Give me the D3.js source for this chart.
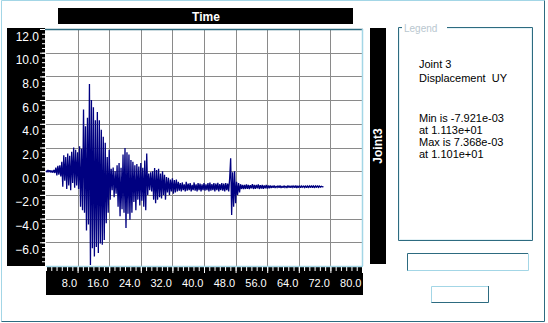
<!DOCTYPE html>
<html>
<head>
<meta charset="utf-8">
<script src="https://cdn.jsdelivr.net/npm/d3@7"></script>
<style>
  html, body { margin: 0; padding: 0; background: #fff; }
  #chart { width: 548px; height: 323px; }
  text { font-family: "Liberation Sans", Arial, sans-serif; }
</style>
</head>
<body>
<div id="chart"></div>
<script>
const dt = 0.25;
const uy_00_10 = [0.05, -0.08, 0.1, -0.05, 0.08, -0.1, 0.06, -0.12, 0.1, -0.15,
  0.3, -0.35, 0.45, -0.3, 0.5, -0.45, 0.8, -1.3, 1.35, -0.8,
  1.2, -1.5, 1.5, -1.2, 1.3, -1.6, 1.65, -1.0, 2.0, -1.4,
  1.8, -1.2, 1.6, -1.5, 2.1, -3.0, 1.9, -3.3, 5.2, -3.5];
const uy_10_20 = [3.8, -5.0, 4.5, -4.5, 7.368, -7.921, 6.0, -6.5, 5.4, -7.2,
  4.3, -6.4, 5.0, -6.9, 4.3, -6.1, 3.5, -6.2, 2.9, -5.8,
  2.4, -4.4, 1.2, -3.5, 1.8, -2.4, 0.2, -1.6, 0.3, -2.2,
  0.0, -1.9, 0.5, -3.0, 0.7, -3.8, 0.3, -3.2, 1.4, -3.5];
const uy_20_30 = [1.95, -4.8, 1.6, -3.6, 1.4, -4.1, 0.95, -3.5, 0.8, -2.6,
  0.5, -3.3, 0.6, -2.4, 0.4, -2.9, 0.7, -2.5, 0.3, -3.0,
  0.9, -3.3, 1.5, -2.0, -0.2, -1.6, -0.1, -1.7, 0.0, -2.4,
  0.27, -2.7, 0.1, -2.4, 0.2, -2.2, -0.2, -2.3, 0.0, -2.0];
const uy_30_40 = [-0.3, -2.4, -0.5, -1.8, -0.55, -2.0, -0.7, -1.7, -0.6, -1.9,
  -0.75, -1.8, -0.7, -1.7, -0.9, -1.65, -1.0, -1.7, -0.95, -1.6,
  -1.1, -1.7, -0.9, -1.65, -1.05, -1.6, -1.0, -1.7, -1.15, -1.6,
  -0.95, -1.65, -1.1, -1.7, -1.0, -1.6, -1.05, -1.7, -1.1, -1.6];
const uy_40_50 = [-1.0, -1.65, -1.1, -1.6, -1.0, -1.7, -0.97, -1.65, -1.08, -1.6,
  -1.0, -1.7, -1.05, -1.6, -0.98, -1.7, -1.08, -1.6, -1.0, -1.65,
  -1.05, -1.7, -1.0, -1.6, -1.05, -1.7, -0.6, 1.09, -3.7, -0.1,
  -3.0, 0.0, -2.7, -0.9, -2.0, -1.0, -1.8, -1.1, -1.5, -1.15];
const uy_50_60 = [-1.5, -1.15, -1.5, -1.12, -1.48, -1.15, -1.5, -1.18, -1.45, -1.1,
  -1.5, -1.15, -1.48, -1.15, -1.45, -1.12, -1.5, -1.18, -1.46, -1.15,
  -1.48, -1.2, -1.45, -1.15, -1.46, -1.2, -1.44, -1.2, -1.42, -1.22,
  -1.4, -1.2, -1.42, -1.25, -1.38, -1.22, -1.4, -1.2, -1.42, -1.25];
const uy_60_70 = [-1.4, -1.22, -1.38, -1.25, -1.42, -1.2, -1.38, -1.24, -1.4, -1.22,
  -1.38, -1.25, -1.4, -1.2, -1.42, -1.24, -1.38, -1.22, -1.4, -1.25,
  -1.36, -1.26, -1.38, -1.22, -1.4, -1.25, -1.36, -1.24, -1.38, -1.2,
  -1.4, -1.25, -1.36, -1.24, -1.38, -1.22, -1.36, -1.25, -1.35, -1.28,
  -1.32, -1.3];

const xMajor = [8, 16, 24, 32, 40, 48, 56, 64, 72, 80];
const yMajor = [-6, -4, -2, 0, 2, 4, 6, 8, 10, 12];
const legendLines = ["Joint 3", "Displacement  UY", "Min is -7.921e-03", "at 1.113e+01", "Max is 7.368e-03", "at 1.101e+01"];
const legendRows = [68, 81.5, 121.5, 133.5, 146, 158];

const series = [].concat(uy_00_10, uy_10_20, uy_20_30, uy_30_40, uy_40_50, uy_50_60, uy_60_70)
  .map((v, i) => ({ t: i * dt, v }));

const dark = "#2d6b80", light = "#a3d6e6";

const svg = d3.select("#chart").append("svg")
  .attr("width", 548).attr("height", 323);

// outer frame
svg.append("path").attr("d", "M1.5,321.5V0.5H544.5").attr("fill", "none").attr("stroke", light);
svg.append("path").attr("d", "M1.5,321.5H544.5V0.5").attr("fill", "none").attr("stroke", dark);

const x = d3.scaleLinear().domain([0, 80]).range([46, 362]);
const y = d3.scaleLinear().domain([-8, 12]).range([266, 29]);

// title bar
svg.append("rect").attr("x", 58).attr("y", 8).attr("width", 295).attr("height", 16).attr("fill", "#000");
svg.append("text").attr("x", 206).attr("y", 21).attr("text-anchor", "middle")
  .attr("fill", "#fff").style("font-size", "12px").style("font-weight", "bold").text("Time");

// axis panels
svg.append("rect").attr("x", 7).attr("y", 28).attr("width", 38).attr("height", 238).attr("fill", "#000");
svg.append("rect").attr("x", 46).attr("y", 266).attr("width", 317).attr("height", 29).attr("fill", "#000");
svg.append("rect").attr("x", 370).attr("y", 28).attr("width", 16).attr("height", 236).attr("fill", "#000");
svg.append("text").attr("transform", "translate(382,146) rotate(-90)").attr("text-anchor", "middle")
  .attr("fill", "#fff").style("font-size", "12px").style("font-weight", "bold").text("Joint3");

// plot background + grid
svg.append("rect").attr("x", 46).attr("y", 29).attr("width", 316).attr("height", 237).attr("fill", "#fff");
const grid = svg.append("g").attr("stroke", "#8a8a8a").attr("shape-rendering", "crispEdges");
grid.selectAll("line.gx").data(xMajor.filter(d => d < 80)).join("line")
  .attr("x1", d => Math.round(x(d)) + 0.5).attr("x2", d => Math.round(x(d)) + 0.5)
  .attr("y1", 29).attr("y2", 266);
grid.selectAll("line.gy").data(yMajor.filter(d => d < 12)).join("line")
  .attr("class", "gy")
  .attr("y1", d => Math.round(y(d)) + 0.5).attr("y2", d => Math.round(y(d)) + 0.5)
  .attr("x1", 46).attr("x2", 362);

// signal
const line = d3.line().x(d => x(d.t)).y(d => y(d.v));
svg.append("path").datum(series).attr("d", line)
  .attr("fill", "none").attr("stroke", "#000080").attr("stroke-width", 1.3)
  .attr("stroke-linejoin", "miter").attr("stroke-miterlimit", 2);

// plot borders
svg.append("line").attr("x1", 45).attr("x2", 363).attr("y1", 29.5).attr("y2", 29.5).attr("stroke", dark).attr("stroke-width", 1.5);
svg.append("line").attr("x1", 362.5).attr("x2", 362.5).attr("y1", 29).attr("y2", 266).attr("stroke", light).attr("stroke-width", 1.5);
svg.append("line").attr("x1", 46).attr("x2", 363).attr("y1", 266.5).attr("y2", 266.5).attr("stroke", light).attr("stroke-width", 1.5);

// y axis
const yMinor = d3.range(-8, 12.01, 0.4);
svg.append("g").attr("transform", "translate(45,0)")
  .call(d3.axisLeft(y).tickValues(yMinor).tickSize(3).tickFormat(""))
  .call(g => g.select(".domain").remove())
  .call(g => g.selectAll("line").attr("stroke", "#fff"));
svg.append("g").attr("transform", "translate(45,0)")
  .call(d3.axisLeft(y).tickValues(yMajor).tickSize(5).tickFormat(d3.format(".1f")))
  .call(g => g.select(".domain").remove())
  .call(g => g.selectAll("line").attr("stroke", "#fff"))
  .call(g => g.selectAll("text").attr("fill", "#fff").attr("x", -6).attr("dy", 0).attr("y", 11)
    .style("font-size", "12px").style("font-family", "Liberation Sans, Arial, sans-serif"));

// x axis
const xMinor = d3.range(0, 80.01, 8 / 6);
svg.append("g").attr("transform", "translate(0,267)")
  .call(d3.axisBottom(x).tickValues(xMinor).tickSize(4).tickFormat(""))
  .call(g => g.select(".domain").remove())
  .call(g => g.selectAll("line").attr("stroke", "#fff"));
svg.append("g").attr("transform", "translate(0,267)")
  .call(d3.axisBottom(x).tickValues(xMajor).tickSize(6).tickFormat(d3.format(".1f")))
  .call(g => g.select(".domain").remove())
  .call(g => g.selectAll("line").attr("stroke", "#fff"))
  .call(g => g.selectAll("text").attr("fill", "#fff").attr("text-anchor", "end").attr("x", -1)
    .attr("dy", 0).attr("y", 20).style("font-size", "11px")
    .style("font-family", "Liberation Sans, Arial, sans-serif"));

// legend box
svg.append("path").attr("d", "M402,27.5H398.5V240.5H532.5V27.5H447")
  .attr("fill", "none").attr("stroke", dark);
svg.append("path").attr("d", "M402,28.5H399.5V239.5H531.5V28.5H447")
  .attr("fill", "none").attr("stroke", "#e4f2f6");
svg.append("text").attr("x", 404).attr("y", 32).attr("fill", "#b9c7cf")
  .style("font-size", "10px").text("Legend");
svg.append("g").selectAll("text").data(legendLines).join("text")
  .attr("x", 419).attr("y", (d, i) => legendRows[i])
  .attr("fill", "#000").style("font-size", "11px").style("white-space", "pre").text(d => d);

// edit box + button
svg.append("path").attr("d", "M407.5,271V253.5H528").attr("fill", "none").attr("stroke", dark);
svg.append("path").attr("d", "M407.5,270.5H528.5V253.5").attr("fill", "none").attr("stroke", light);
svg.append("path").attr("d", "M431.5,303V286.5H488").attr("fill", "none").attr("stroke", light);
svg.append("path").attr("d", "M431.5,302.5H488.5V286").attr("fill", "none").attr("stroke", dark);
</script>
</body>
</html>
